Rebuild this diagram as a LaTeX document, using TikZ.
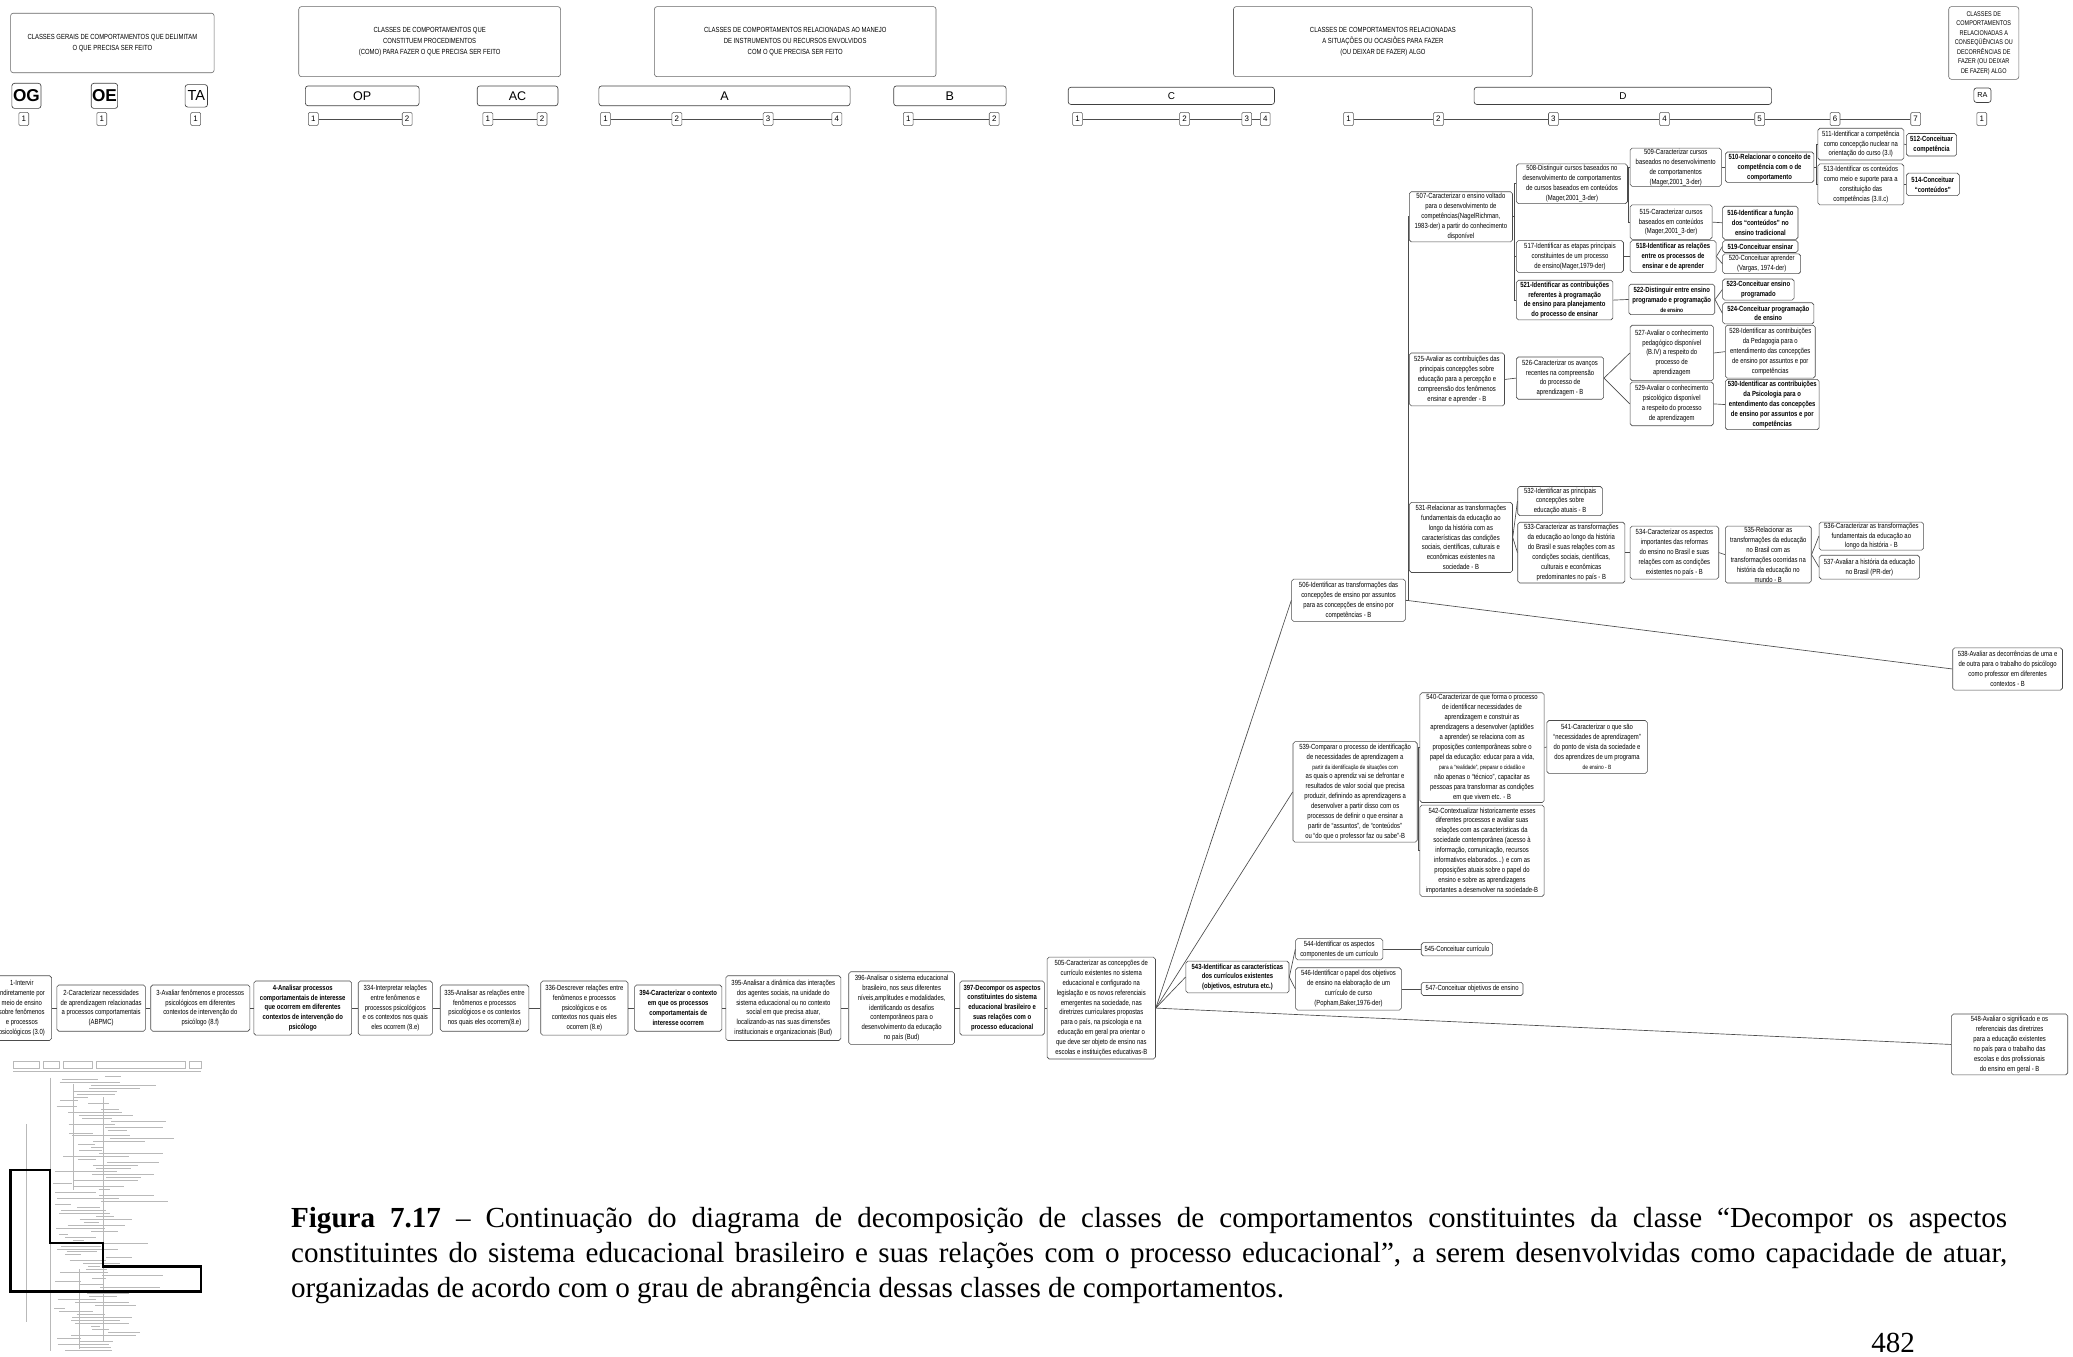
\documentclass[tikz,border=0pt]{standalone}
\usepackage{fontspec}
\setmainfont{Liberation Serif}
\newfontfamily\nf[FakeStretch=0.8]{Liberation Sans}
\newfontfamily\af{Liberation Sans}
\usetikzlibrary{calc}
\tikzset{
 bx/.style={draw=black!70, line width=0.45pt, rounded corners=1.5pt, align=center, inner sep=0.5pt, fill=white, font=\nf\fontsize{5.6}{7.5}\selectfont},
 bb/.style={font=\nf\bfseries\fontsize{5.6}{7.5}\selectfont},
 hd/.style={draw=black!60, line width=0.45pt, rounded corners=2pt, align=center, inner sep=0.5pt, font=\nf\fontsize{5.6}{8}\selectfont},
 lb/.style={draw=black!75, line width=0.5pt, rounded corners=2pt, inner sep=0pt, font=\af\fontsize{9.5}{10}\selectfont},
 nb/.style={draw=black!65, line width=0.4pt, rounded corners=1pt, inner sep=0pt, minimum width=7.5pt, minimum height=10pt, fill=white, font=\af\fontsize{6}{7}\selectfont},
 ln/.style={draw=black!70, line width=0.5pt},
}
\newcommand\bx[7][]{\node[bx,#1,minimum width={(#4-#3)*1pt},minimum height={(#6-#5)*1pt}] (#2) at ({(#3+#4)/2},{(#5+#6)/2}) {#7};}
\newcommand\hbx[6]{\node[hd,minimum width={(#3-#2)*1pt},minimum height={(#5-#4)*1pt}] (#1) at ({(#2+#3)/2},{(#4+#5)/2}) {#6};}
\newcommand\sm[1]{{\fontsize{4.6}{7.5}\selectfont #1}}
\begin{document}
\begin{tikzpicture}[x=1pt,y=-1pt]
\useasboundingbox (0,0) rectangle (1568,1026);
% ---------- header ----------
\hbx{h1}{8}{162}{10}{55}{CLASSES GERAIS DE COMPORTAMENTOS QUE DELIMITAM\\O QUE PRECISA SER FEITO}
\hbx{h2}{226}{424}{5}{58}{CLASSES  DE COMPORTAMENTOS QUE\\CONSTITUEM PROCEDIMENTOS\\(COMO) PARA FAZER O QUE PRECISA SER FEITO}
\hbx{h3}{495}{708}{5}{58}{CLASSES  DE COMPORTAMENTOS RELACIONADAS AO MANEJO\\DE INSTRUMENTOS OU RECURSOS ENVOLVIDOS\\COM O QUE PRECISA SER FEITO}
\hbx{h4}{933}{1159}{5}{58}{CLASSES  DE COMPORTAMENTOS RELACIONADAS\\A SITUAÇÕES OU  OCASIÕES PARA FAZER\\(OU DEIXAR DE FAZER) ALGO}
\node[hd,minimum width=53pt,minimum height=55pt,font=\nf\fontsize{5.2}{7.2}\selectfont] (h5) at (1500.5,32.5) {CLASSES DE\\COMPORTAMENTOS\\RELACIONADAS A\\CONSEQÜÊNCIAS OU\\DECORRÊNCIAS DE\\FAZER (OU DEIXAR\\DE FAZER) ALGO};
% labels
\node[lb,font=\af\bfseries\fontsize{13}{14}\selectfont,minimum width=22pt,minimum height=19pt] (og) at (20,72.5) {OG};
\node[lb,font=\af\bfseries\fontsize{13}{14}\selectfont,minimum width=20pt,minimum height=19pt] (oe) at (79,72.5) {OE};
\node[lb,font=\af\fontsize{11}{12}\selectfont,minimum width=17pt,minimum height=17pt] (ta) at (148.5,72.5) {TA};
\node[lb,minimum width=86pt,minimum height=15pt] (op) at (274,72.5) {OP};
\node[lb,minimum width=61pt,minimum height=15pt] (ac) at (391.5,72.5) {AC};
\node[lb,minimum width=190pt,minimum height=15pt] (la) at (548,72.5) {A};
\node[lb,minimum width=85pt,minimum height=15pt] (lbb) at (718.5,72.5) {B};
\node[lb,font=\af\fontsize{7.5}{8}\selectfont,minimum width=156pt,minimum height=13pt] (lc) at (886,72.5) {C};
\node[lb,font=\af\fontsize{7.5}{8}\selectfont,minimum width=225pt,minimum height=13pt] (ld) at (1227.5,72.5) {D};
\node[lb,font=\af\fontsize{5.5}{6}\selectfont,minimum width=13pt,minimum height=11pt] (ra) at (1499.5,72) {RA};
% number boxes
\foreach \nm/\x/\t in {og1/18/1, oe1/77/1, ta1/148/1, op1/237/1, op2/308/2, ac1/369/1, ac2/410/2, a1/458/1, a2/512/2, a3/581/3, a4/633/4, b1/687/1, b2/752/2, c1/815/1, c2/896/2, c3/943/3, c4/957/4, d1/1020/1, d2/1088/2, d3/1175/3, d4/1259/4, d5/1331/5, d6/1388/6, d7/1449/7, ra1/1499/1}
  \node[nb] (\nm) at (\x,90) {\t};
\foreach \a/\b in {op1/op2,ac1/ac2,a1/a2,a2/a3,a3/a4,b1/b2,c1/c2,c2/c3,c3/c4,d1/d2,d2/d3,d3/d4,d4/d5,d5/d6,d6/d7}
  \draw[ln] (\a) -- (\b);
% ---------- bottom chain ----------
\bx{n1}{-6}{39}{738}{787}{1-Intervir\\indiretamente por\\meio de ensino\\sobre fenômenos\\e processos\\psicológicos (3.0)}
\bx{n2}{43}{110}{745}{780}{2-Caracterizar necessidades\\de aprendizagem relacionadas\\a processos comportamentais\\(ABPMC)}
\bx{n3}{114}{189}{745}{780}{3-Avaliar fenômenos e processos\\psicológicos em diferentes\\contextos de intervenção do\\psicólogo (8.f)}
\bx[bb]{n4}{192}{266}{742}{783}{4-Analisar processos\\comportamentais de interesse\\que ocorrem em diferentes\\contextos de intervenção do\\psicólogo}
\bx{n334}{271}{327}{742}{783}{334-Interpretar relações\\entre fenômenos e\\processos psicológicos\\e os contextos nos quais\\eles ocorrem (8.e)}
\bx{n335}{333}{400}{745}{780}{335-Analisar as relações entre\\fenômenos e processos\\psicológicos e os contextos\\nos quais eles ocorrem(8.e)}
\bx{n336}{409}{475}{742}{783}{336-Descrever relações entre\\fenômenos e processos\\psicológicos e os\\contextos nos quais eles\\ocorrem (8.e)}
\bx[bb]{n394}{480}{546}{745}{780}{394-Caracterizar o contexto\\em que os processos\\comportamentais de\\interesse ocorrem}
\bx{n395}{549}{636}{738}{787}{395-Analisar a dinâmica das interações\\dos agentes sociais, na unidade do\\sistema educacional ou no contexto\\social em que precisa atuar,\\localizando-as nas suas dimensões\\institucionais e organizacionais (Bud)}
\bx{n396}{642}{722}{735}{790}{396-Analisar o sistema educacional\\brasileiro, nos seus diferentes\\níveis,amplitudes e modalidades,\\identificando os desafios\\contemporâneos para o\\desenvolvimento da educação\\no país (Bud)}
\bx[bb]{n397}{726}{790}{742}{783}{397-Decompor os aspectos\\constituintes do sistema\\educacional brasileiro e\\suas relações com o\\processo educacional}
\bx{n505}{792}{874}{724}{801}{505-Caracterizar as concepções de\\currículo existentes no sistema\\educacional e configurado na\\legislação e os novos referenciais\\emergentes na sociedade, nas\\diretrizes curriculares propostas\\para o país, na psicologia e na\\educação em geral pra orientar o\\que deve ser objeto de ensino nas\\escolas e instituições educativas-B}
% ---------- 543 group ----------
\bx[bb]{n543}{897}{975}{727}{751}{543-Identificar as características\\dos currículos existentes\\(objetivos, estrutura etc.)}
\bx{n544}{980}{1046}{710}{726}{544-Identificar os aspectos\\componentes de um currículo}
\bx{n545}{1075}{1129}{713}{723}{545-Conceituar currículo}
\bx{n546}{980}{1060}{732}{764}{546-Identificar o papel dos objetivos\\de ensino na elaboração de um\\currículo de curso\\(Popham,Baker,1976-der)}
\bx{n547}{1075}{1152}{743}{753}{547-Conceituar objetivos de ensino}
\bx{n548}{1476}{1564}{767}{813}{548-Avaliar o significado e os\\referenciais das diretrizes\\para a educação existentes\\no país para o trabalho das\\escolas e dos profissionais\\do ensino em geral - B}
% ---------- 539 group ----------
\bx{n539}{978}{1072}{561}{637}{539-Comparar o processo de identificação\\de necessidades de aprendizagem a\\\sm{partir da identificação de situações com}\\as quais o aprendiz vai se defrontar e\\resultados de valor social que precisa\\produzir, definindo as aprendizagens a\\desenvolver a partir disso com os\\processos de definir o que ensinar a\\partir de “assuntos”, de “conteúdos”\\ou “do que o professor faz ou sabe”-B}
\bx{n540}{1074}{1168}{524}{607}{540-Caracterizar de que forma o processo\\de identificar necessidades de\\aprendizagem e construir as\\aprendizagens a desenvolver (aptidões\\a aprender) se relaciona com as\\proposições contemporâneas sobre o\\papel da educação: educar para a vida,\\\sm{para a “realidade”, preparar o cidadão e}\\não apenas o “técnico”, capacitar as\\pessoas para transformar as condições\\em que vivem etc. - B}
\bx{n541}{1170}{1246}{545}{585}{541-Caracterizar o que são\\“necessidades de aprendizagem”\\do ponto de vista da sociedade e\\dos aprendizes de um programa\\\sm{de ensino - B}}
\bx{n542}{1074}{1168}{609}{678}{542-Contextualizar historicamente esses\\diferentes processos e avaliar suas\\relações com as características da\\sociedade contemporânea (acesso à\\informação, comunicação, recursos\\informativos elaborados...) e com as\\proposições atuais sobre o papel do\\ensino e sobre as aprendizagens\\importantes a desenvolver na sociedade-B}
% ---------- 506 group ----------
\bx{n506}{977}{1063}{438}{470}{506-Identificar as transformações das\\concepções de ensino por assuntos\\para as concepções de ensino por\\competências - B}
\bx{n538}{1477}{1560}{490}{522}{538-Avaliar as decorrências de uma e\\de outra para o trabalho do psicólogo\\como professor em diferentes\\contextos - B}
\bx{n507}{1066}{1144}{145}{183}{507-Caracterizar o ensino voltado\\para o desenvolvimento de\\competências(NagelRichman,\\1983-der) a partir do conhecimento\\disponível}
\bx{n508}{1147}{1231}{124}{154}{508-Distinguir cursos baseados no\\desenvolvimento de comportamentos\\de cursos baseados em conteúdos\\(Mager,2001\_3-der)}
\bx{n509}{1233}{1302}{112}{141}{509-Caracterizar cursos\\baseados no desenvolvimento\\de comportamentos\\(Mager,2001\_3-der)}
\bx[bb]{n510}{1305}{1372}{115}{138}{510-Relacionar o conceito de\\competência com o de\\comportamento}
\bx{n511}{1375}{1440}{97}{121}{511-Identificar a competência\\como concepção nuclear na\\orientação do curso (3.I)}
\bx[bb]{n512}{1442}{1480}{101}{118}{512-Conceituar\\competência}
\bx{n513}{1375}{1440}{124}{155}{513-Identificar os conteúdos\\como meio e suporte para a\\constituição das\\competências (3.II.c)}
\bx[bb]{n514}{1442}{1482}{131}{148}{514-Conceituar\\“conteúdos”}
\bx{n515}{1233}{1295}{155}{181}{515-Caracterizar cursos\\baseados em conteúdos\\(Mager,2001\_3-der)}
\bx[bb]{n516}{1303}{1360}{156}{181}{516-Identificar a função\\dos “conteúdos” no\\ensino tradicional}
\bx{n517}{1147}{1228}{182}{206}{517-Identificar as etapas principais\\constituintes de um processo\\de ensino(Mager,1979-der)}
\bx[bb]{n518}{1233}{1298}{182}{206}{518-Identificar as relações\\entre os processos de\\ensinar e de aprender}
\bx[bb]{n519}{1303}{1360}{182}{191}{519-Conceituar ensinar}
\bx{n520}{1303}{1362}{192}{207}{520-Conceituar aprender\\(Vargas, 1974-der)}
\bx[bb]{n521}{1147}{1220}{212}{242}{521-Identificar as contribuições\\referentes à programação\\de ensino para planejamento\\do processo de ensinar}
\bx[bb]{n522}{1232}{1297}{215}{238}{522-Distinguir entre ensino\\programado e programação\\\sm{de ensino}}
\bx[bb]{n523}{1303}{1357}{211}{227}{523-Conceituar ensino\\programado}
\bx[bb]{n524}{1303}{1372}{229}{245}{524-Conceituar programação\\de ensino}
\bx{n525}{1066}{1138}{267}{307}{525-Avaliar as contribuições das\\principais concepções sobre\\educação para a percepção e\\compreensão dos fenômenos\\ensinar e aprender - B}
\bx{n526}{1147}{1213}{270}{302}{526-Caracterizar os avanços\\recentes na compreensão\\do processo de\\aprendizagem - B}
\bx{n527}{1233}{1296}{246}{288}{527-Avaliar o conhecimento\\pedagógico disponível\\(B.IV) a respeito do\\processo de\\aprendizagem}
\bx{n528}{1305}{1373}{246}{286}{528-Identificar as contribuições\\da Pedagogia para o\\entendimento das concepções\\de ensino por assuntos e por\\competências}
\bx{n529}{1233}{1296}{289}{322}{529-Avaliar o conhecimento\\psicológico disponível\\a respeito do processo\\de aprendizagem}
\bx[bb]{n530}{1305}{1376}{287}{325}{530-Identificar as contribuições\\da Psicologia para o\\entendimento das concepções\\de ensino por assuntos e por\\competências}
\bx{n531}{1066}{1144}{380}{433}{531-Relacionar as transformações\\fundamentais da educação ao\\longo da história com as\\características das condições\\sociais, científicas, culturais e\\econômicas existentes na\\sociedade - B}
\bx{n532}{1148}{1212}{368}{390}{532-Identificar as principais\\concepções sobre\\educação atuais - B}
\bx{n533}{1148}{1229}{395}{441}{533-Caracterizar as transformações\\da educação ao longo da história\\do Brasil e suas relações com as\\condições sociais, científicas,\\culturais e econômicas\\predominantes no país - B}
\bx{n534}{1233}{1300}{398}{438}{534-Caracterizar os aspectos\\importantes das reformas\\do ensino no Brasil e suas\\relações com as condições\\existentes no país - B}
\bx{n535}{1305}{1370}{398}{441}{535-Relacionar as\\transformações da educação\\no Brasil com as\\transformações ocorridas na\\história da educação no\\mundo - B}
\bx{n536}{1376}{1455}{395}{416}{536-Caracterizar as transformações\\fundamentais da educação ao\\longo da história - B}
\bx{n537}{1376}{1452}{420}{438}{537-Avaliar a história da educação\\no Brasil (PR-der)}
% ---------- connectors ----------
\foreach \a/\b in {n1/n2,n2/n3,n3/n4,n4/n334,n334/n335,n335/n336,n336/n394,n394/n395,n395/n396,n396/n397,n397/n505,
  n509/n510,n511/n512,n513/n514,n515/n516,n517/n518,n521/n522,n525/n526,n527/n528,n529/n530,n533/n534,n534/n535,n540/n541,n544/n545,n546/n547}
  \draw[ln] (\a.east) -- (\b.west);
\foreach \a/\b in {n518/n519,n518/n520,n522/n523,n522/n524,n526/n527,n526/n529,n531/n532,n531/n533,n535/n536,n535/n537,n543/n544,n543/n546,
  n505/n506,n505/n539,n505/n543,n505/n548,n506/n538}
  \draw[ln] (\a.east) -- (\b.west);
\coordinate (j506) at (1065,454);
\draw[ln] (n506.east) -- (j506) |- (n507.west);
\draw[ln] (j506) |- (n525.west);
\draw[ln] (j506) |- (n531.west);
\coordinate (j507) at (1145.5,164);
\draw[ln] (n507.east) -- (j507) |- (n508.west);
\draw[ln] (j507) |- (n517.west);
\draw[ln] (j507) |- (n521.west);
\coordinate (j508) at (1232,139);
\draw[ln] (n508.east) -- (j508) |- (n509.west);
\draw[ln] (j508) |- (n515.west);
\coordinate (j510) at (1373.5,126.5);
\draw[ln] (n510.east) -- (j510) |- (n511.west);
\draw[ln] (j510) |- (n513.west);
\coordinate (j539) at (1073,599);
\draw[ln] (n539.east) -- (j539) |- (n540.west);
\draw[ln] (j539) |- (n542.west);
% ---------- thumbnail ----------
\begin{scope}[gray!55,line width=0.3pt]
\foreach \xa/\xb in {10/30,33/45,48/70,73/140,143/152}
  \draw (\xa,803) rectangle (\xb,808);
\draw (10,810) -- (152,810);
\draw (38,815) -- (38,1022);
\draw (20,850) -- (20,1000);
\draw (78,830) -- (78,1015);
\draw (55,820) -- (55,900);
\draw (60,960) -- (60,1020);
\pgfmathsetseed{7}
\foreach \i in {0,...,92}{
  \pgfmathsetmacro\yy{814+\i*2.25}
  \pgfmathsetmacro\xa{40+rnd*45}
  \pgfmathsetmacro\xb{\xa+6+rnd*45}
  \draw (\xa,\yy) -- (\xb,\yy);
}
\end{scope}
\draw[black,line width=1.8pt] (8,885) -- (38,885) -- (38,940) -- (78,940) -- (78,958) -- (152,958) -- (152,977) -- (8,977) -- cycle;
% ---------- caption ----------
\node[anchor=north west,inner sep=0pt,text width=1298pt,align=justify,font=\fontsize{22}{26.5}\selectfont] (cap) at (220,913)
 {\textbf{Figura 7.17} – Continuação do diagrama de decomposição de classes de comportamentos constituintes da classe “Decompor os aspectos\linebreak
 constituintes do sistema educacional brasileiro e suas relações com o processo educacional”, a serem desenvolvidas como capacidade de atuar,\linebreak
 organizadas de acordo com o grau de abrangência dessas classes de comportamentos.};
\node[inner sep=0pt,font=\fontsize{22}{26}\selectfont] (pg) at (1432,1016) {482};
\end{tikzpicture}
\end{document}
